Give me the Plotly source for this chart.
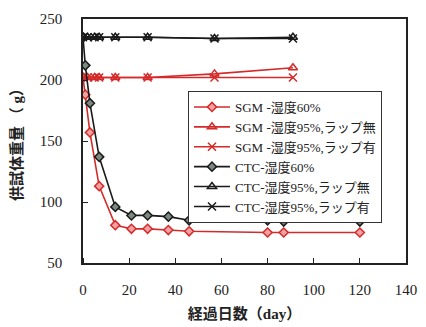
import plotly.graph_objects as go

days_60 = [0, 1, 3, 7, 14, 21, 28, 37, 46, 80, 87, 120]
sgm_60 = [202, 188, 157, 113, 81, 78, 78, 77, 76, 75, 75, 75]
ctc_60 = [235, 212, 181, 137, 96, 89, 89, 88, 85, 85, 84, 84]

days_95 = [0, 2, 5, 7, 14, 28, 57, 91]
sgm_95_nowrap = [202, 202, 202, 202, 202, 202, 205, 210]
sgm_95_wrap = [202, 202, 202, 202, 202, 202, 202, 202]
ctc_95_nowrap = [235, 235, 235, 235, 235, 235, 234, 235]
ctc_95_wrap = [235, 235, 235, 235, 235, 235, 234, 234]

names = ["SGM -湿度60%", "SGM -湿度95%,ラップ無", "SGM -湿度95%,ラップ有",
         "CTC-湿度60%", "CTC-湿度95%,ラップ無", "CTC-湿度95%,ラップ有"]

RED = "#d42a2a"
BLK = "#1a1a1a"

fig = go.Figure()

def add(x, y, name, color, symbol, mfill, size):
    fig.add_trace(go.Scatter(
        x=x, y=y, name=name, mode="lines+markers",
        line=dict(color=color, width=1.6),
        marker=dict(symbol=symbol, size=size, color=mfill,
                    line=dict(color=color, width=1.5)),
    ))

add(days_60, sgm_60, names[0], RED, "diamond", "#f2a0a0", 7)
add(days_95, sgm_95_nowrap, names[1], RED, "triangle-up-open", RED, 8)
add(days_95, sgm_95_wrap, names[2], RED, "x-thin-open", RED, 8)
add(days_60, ctc_60, names[3], BLK, "diamond", "#7a8a80", 7)
add(days_95, ctc_95_nowrap, names[4], BLK, "triangle-up-open", BLK, 8)
add(days_95, ctc_95_wrap, names[5], BLK, "x-thin-open", BLK, 8)

serif = "Liberation Serif, Noto Sans CJK JP"

fig.update_layout(
    width=426, height=327,
    margin=dict(l=83, r=20, t=19, b=63.5),
    paper_bgcolor="white", plot_bgcolor="white",
    font=dict(family=serif, size=14, color="#222"),
    showlegend=True,
    legend=dict(
        x=0.325, y=0.705, xanchor="left", yanchor="top",
        bgcolor="white", bordercolor="#333", borderwidth=1,
        font=dict(family=serif, size=13, color="#222"),
        itemwidth=36, tracegroupgap=0,
        entrywidth=170, entrywidthmode="pixels",
    ),
    xaxis=dict(
        range=[0, 140], dtick=20, tick0=0, automargin=False,
        showline=True, linecolor="#222", linewidth=1.5, mirror=True,
        ticks="outside", ticklen=12, tickcolor="rgba(0,0,0,0)",
        minor=dict(ticks="inside", dtick=20, tick0=0, ticklen=5, tickcolor="#222", showgrid=False),
        showgrid=False, zeroline=False,
        tickfont=dict(family=serif, size=15, color="#222"),
        title=dict(text="<b>経過日数（day）</b>", font=dict(family=serif, size=15, color="#222"), standoff=12),
    ),
    yaxis=dict(
        range=[50, 250], dtick=50, tick0=50, automargin=False,
        showline=True, linecolor="#222", linewidth=1.5, mirror=True,
        ticks="inside", ticklen=5, tickcolor="#222", showgrid=False, zeroline=False,
        ticklabelstandoff=16, ticklabeloverflow="allow",
        tickfont=dict(family=serif, size=15, color="#222"),
        title=dict(text="<b>供試体重量 （ g）</b>", font=dict(family=serif, size=15, color="#222"), standoff=14),
    ),
)

fig.write_html(
    "out.html",
    config={"displayModeBar": False},
    post_script="document.body.style.margin='0';document.body.style.overflow='hidden';",
)
